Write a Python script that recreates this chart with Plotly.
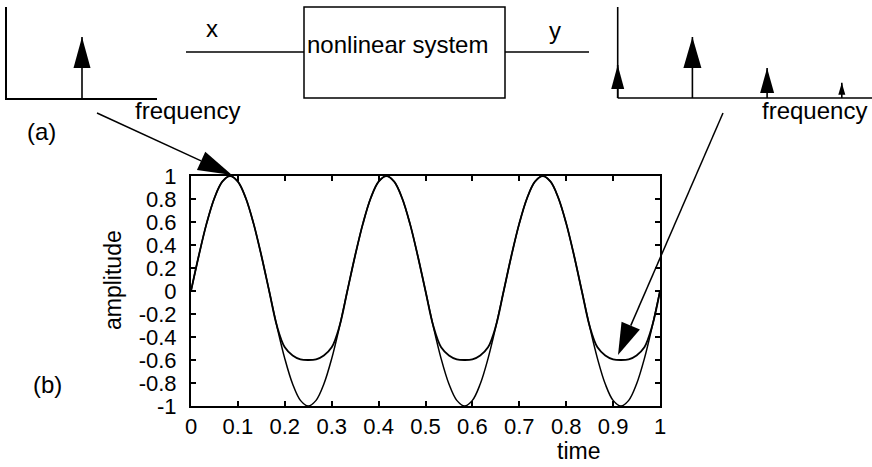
import math
import plotly.graph_objects as go

# ---------------- data ----------------
time = [0, 0.0167, 0.0333, 0.05, 0.0667, 0.0833, 0.1, 0.1167, 0.1333, 0.15,
        0.1667, 0.1833, 0.2, 0.2167, 0.2333, 0.25, 0.2667, 0.2833, 0.3, 0.3167,
        0.3333, 0.35, 0.3667, 0.3833, 0.4, 0.4167, 0.4333, 0.45, 0.4667, 0.4833,
        0.5, 0.5167, 0.5333, 0.55, 0.5667, 0.5833, 0.6, 0.6167, 0.6333, 0.65,
        0.6667, 0.6833, 0.7, 0.7167, 0.7333, 0.75, 0.7667, 0.7833, 0.8, 0.8167,
        0.8333, 0.85, 0.8667, 0.8833, 0.9, 0.9167, 0.9333, 0.95, 0.9667, 0.9833, 1.0]

input_x = [0, 0.309, 0.588, 0.809, 0.951, 1, 0.951, 0.809, 0.588, 0.309,
           0, -0.309, -0.588, -0.809, -0.951, -1, -0.951, -0.809, -0.588, -0.309,
           0, 0.309, 0.588, 0.809, 0.951, 1, 0.951, 0.809, 0.588, 0.309,
           0, -0.309, -0.588, -0.809, -0.951, -1, -0.951, -0.809, -0.588, -0.309,
           0, 0.309, 0.588, 0.809, 0.951, 1, 0.951, 0.809, 0.588, 0.309,
           0, -0.309, -0.588, -0.809, -0.951, -1, -0.951, -0.809, -0.588, -0.309,
           0]

output_y = [0, 0.309, 0.588, 0.809, 0.951, 1, 0.951, 0.809, 0.588, 0.309,
            0, -0.305, -0.49, -0.56, -0.594, -0.6, -0.594, -0.56, -0.49, -0.305,
            0, 0.309, 0.588, 0.809, 0.951, 1, 0.951, 0.809, 0.588, 0.309,
            0, -0.305, -0.49, -0.56, -0.594, -0.6, -0.594, -0.56, -0.49, -0.305,
            0, 0.309, 0.588, 0.809, 0.951, 1, 0.951, 0.809, 0.588, 0.309,
            0, -0.305, -0.49, -0.56, -0.594, -0.6, -0.594, -0.56, -0.49, -0.305,
            0]

x_ticks = [0, 0.1, 0.2, 0.3, 0.4, 0.5, 0.6, 0.7, 0.8, 0.9, 1]
x_ticktext = ["0", "0.1", "0.2", "0.3", "0.4", "0.5", "0.6", "0.7", "0.8", "0.9", "1"]
y_ticks = [1, 0.8, 0.6, 0.4, 0.2, 0, -0.2, -0.4, -0.6, -0.8, -1]
y_ticktext = ["1", "0.8", "0.6", "0.4", "0.2", "0", "-0.2", "-0.4", "-0.6", "-0.8", "-1"]

# spectra (sketch amplitudes)
in_freq = [1]
in_amp = [1.0]
out_freq = [0, 1, 2, 3]
out_amp = [0.54, 1.0, 0.49, 0.25]

# ---------------- style ----------------
W, H = 872, 467
FONT = "Liberation Sans, Arial, sans-serif"
in_heads = [(17, 31)]                                  # (width, height) px
out_heads = [(13, 24), (18, 31), (14, 25), (7, 12)]
SPEC_TOP = 1.49          # amplitude units shown on spectrum axes
FSTEP = 74.7             # px per frequency unit
PAD_F = 0.15             # extra room left of f=0 on output spectrum
PAD_A = 0.05             # extra room below 0 on output spectrum


def px(x):
    return x / W


def py(y):
    return 1 - y / H


fig = go.Figure()

# main plot curves
fig.add_trace(go.Scatter(x=time, y=input_x, mode="lines",
                         line=dict(color="black", width=1.5, shape="spline"),
                         xaxis="x", yaxis="y", showlegend=False))
fig.add_trace(go.Scatter(x=time, y=output_y, mode="lines",
                         line=dict(color="black", width=1.8, shape="spline"),
                         xaxis="x", yaxis="y", showlegend=False))

# spectrum stems
sx, sy = [], []
for f, a in zip(in_freq, in_amp):
    sx += [f, f, None]
    sy += [0, a, None]
fig.add_trace(go.Scatter(x=sx, y=sy, mode="lines", line=dict(color="black", width=1.6),
                         xaxis="x3", yaxis="y3", showlegend=False))
out_fmax = (W - 617.7) / FSTEP
sx, sy = [0, 0, None, 0, out_fmax, None], [SPEC_TOP, 0, None, 0, 0, None]
for f, a in zip(out_freq, out_amp):
    sx += [f, f, None]
    sy += [0, a, None]
fig.add_trace(go.Scatter(x=sx, y=sy, mode="lines", line=dict(color="black", width=1.6),
                         xaxis="x4", yaxis="y4", showlegend=False))

shapes = []


def head_shape(xref, yref, f, a, w, h):
    return dict(type="path", xref=xref, yref=yref,
                xsizemode="pixel", ysizemode="pixel", xanchor=f, yanchor=a,
                path=f"M {-w/2},{-h} L {w/2},{-h} L 0,0 Z",
                fillcolor="black", line=dict(width=0), layer="above")


for (f, a), (w, h) in zip(zip(in_freq, in_amp), in_heads):
    shapes.append(head_shape("x3", "y3", f, a, w, h))
for (f, a), (w, h) in zip(zip(out_freq, out_amp), out_heads):
    shapes.append(head_shape("x4", "y4", f, a, w, h))

# block diagram
LW = 1.5
shapes.append(dict(type="line", xref="paper", yref="paper", x0=px(186), y0=py(52),
                   x1=px(304), y1=py(52), line=dict(color="black", width=LW)))
shapes.append(dict(type="rect", xref="paper", yref="paper", x0=px(304), y0=py(7),
                   x1=px(505), y1=py(98), line=dict(color="black", width=LW)))
shapes.append(dict(type="line", xref="paper", yref="paper", x0=px(505), y0=py(52),
                   x1=px(589), y1=py(52), line=dict(color="black", width=LW)))


def long_arrow(sx_, sy_, tx, ty, L, hw):
    dx, dy = tx - sx_, ty - sy_
    n = math.hypot(dx, dy)
    ux, uy = dx / n, dy / n
    bx, by = tx - L * ux, ty - L * uy
    nx, ny = -uy, ux
    p1 = (bx + hw * nx, by + hw * ny)
    p2 = (bx - hw * nx, by - hw * ny)
    return [dict(type="line", xref="paper", yref="paper", x0=px(sx_), y0=py(sy_),
                 x1=px(bx), y1=py(by), line=dict(color="black", width=1.5)),
            dict(type="path", xref="paper", yref="paper",
                 path=f"M {px(tx)},{py(ty)} L {px(p1[0])},{py(p1[1])} L {px(p2[0])},{py(p2[1])} Z",
                 fillcolor="black", line=dict(width=0), layer="above")]


shapes += long_arrow(97, 113, 232, 175, 34, 10)
shapes += long_arrow(723, 113, 618, 355, 32, 10)

annotations = []


def text(s, x, y, size=24, angle=0):
    annotations.append(dict(text=s, x=px(x), y=py(y), xref="paper", yref="paper",
                            showarrow=False, xanchor="center", yanchor="middle",
                            textangle=angle, font=dict(family=FONT, size=size, color="black")))


text("x", 212, 28)
text("y", 555, 30)
text("nonlinear system", 397, 44)
text("frequency", 187, 110)
text("frequency", 814, 110)
text("(a)", 41, 131)
text("(b)", 47, 384)
text("amplitude", 113, 280, size=23, angle=-90)
text("time", 578, 451, size=23)

axis_common = dict(showgrid=False, zeroline=False, color="black", automargin=False)
hidden = dict(showline=False, showticklabels=False, ticks="", **axis_common)

fig.update_layout(
    template="none",
    width=W, height=H, margin=dict(l=0, r=0, t=0, b=0, pad=0), autosize=False,
    paper_bgcolor="white", plot_bgcolor="rgba(0,0,0,0)",
    font=dict(family=FONT, color="black"), showlegend=False,
    shapes=shapes, annotations=annotations,
    xaxis=dict(domain=[px(191), px(660)], range=[0, 1], anchor="y",
               tickvals=x_ticks, ticktext=x_ticktext,
               ticks="inside", ticklen=5, tickwidth=1.5, mirror="ticks",
               showline=True, linewidth=2, linecolor="black",
               tickfont=dict(size=22, family=FONT), **axis_common),
    yaxis=dict(domain=[py(406), py(176)], range=[-1, 1], anchor="x",
               tickvals=y_ticks, ticktext=y_ticktext,
               ticks="inside", ticklen=5, tickwidth=1.5, mirror="ticks",
               showline=True, linewidth=2, linecolor="black", ticklabelstandoff=8,
               tickfont=dict(size=22, family=FONT), **axis_common),
    xaxis3=dict(domain=[px(7), px(157)], range=[0, 2], anchor="y3",
                showline=True, linewidth=1.6, linecolor="black",
                showticklabels=False, ticks="", **axis_common),
    yaxis3=dict(domain=[py(98), py(7)], range=[0, SPEC_TOP], anchor="x3",
                showline=True, linewidth=1.6, linecolor="black",
                showticklabels=False, ticks="", **axis_common),
    xaxis4=dict(domain=[px(617.7 - PAD_F * FSTEP), 1.0], range=[-PAD_F, out_fmax], anchor="y4",
                **hidden),
    yaxis4=dict(domain=[py(98 + PAD_A * 61), py(7)], range=[-PAD_A, SPEC_TOP], anchor="x4",
                **hidden),
)

fig.write_html("out.html", config={"responsive": False, "displayModeBar": False},
               post_script="document.body.style.margin='0';document.body.style.padding='0';"
                           "document.documentElement.style.overflow='hidden';")
